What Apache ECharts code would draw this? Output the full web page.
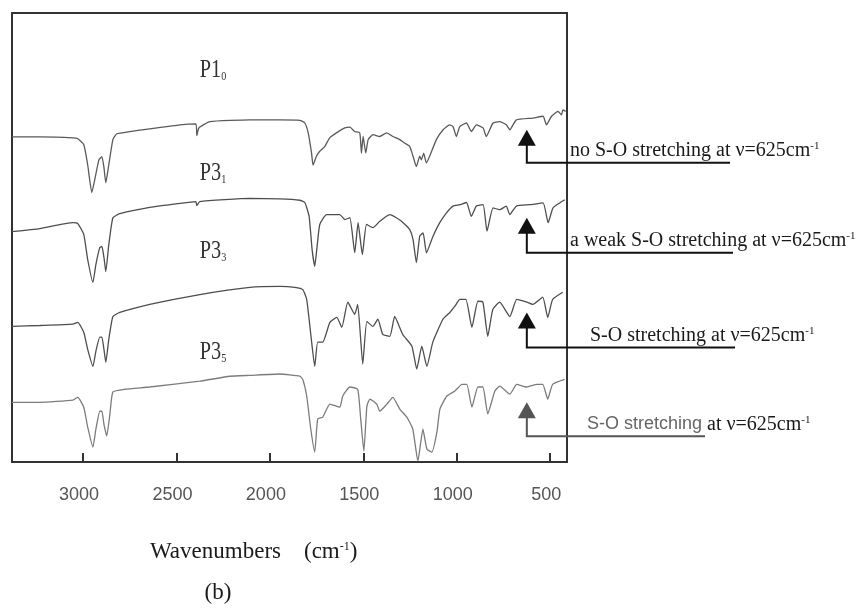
<!DOCTYPE html>
<html><head><meta charset="utf-8">
<script src="https://cdn.jsdelivr.net/npm/echarts@6/dist/echarts.min.js"></script>
<style>html,body{margin:0;padding:0;background:#fff}#c{width:867px;height:610px}</style>
</head><body><div id="c"></div>
<script>
// x tick labels (wavenumbers, cm-1)
const wavenumberTicks = [3000, 2500, 2000, 1500, 1000, 500];
// curve names (main text + subscript)
const curveNames = [['P1', '0'], ['P3', '1'], ['P3', '3'], ['P3', '5']];
// label value (vertical position in transmittance units) for each curve name
const curveLabelY = [87.3, 64.4, 46.9, 24.4];
const curveLabelX = [2375, 2375, 2375, 2375];

// spectra: [wavenumber, offset transmittance]
const p1_0 = [[3381,72.4],[3231,72.4],[3054,72.2],[3028,72.0],[2996,70.7],[2975,66.2],[2953,60.0],[2937,62.9],[2915,67.3],[2899,68.0],[2888,65.6],[2878,62.2],[2862,66.2],[2840,71.8],[2819,73.1],[2749,73.6],[2643,74.2],[2482,75.1],[2396,75.3],[2391,72.7],[2380,74.4],[2321,75.8],[2107,76.2],[1947,76.2],[1840,76.1],[1813,75.5],[1795,73.3],[1777,68.8],[1769,66.1],[1751,68.1],[1733,69.2],[1706,70.3],[1680,72.2],[1644,73.3],[1599,74.4],[1572,74.6],[1546,73.6],[1519,73.3],[1510,68.8],[1501,72.5],[1487,68.8],[1474,71.8],[1448,72.9],[1412,72.5],[1376,73.3],[1341,72.5],[1305,71.8],[1278,71.0],[1252,70.3],[1234,68.1],[1216,65.8],[1198,68.1],[1189,67.3],[1177,68.8],[1163,66.6],[1145,68.1],[1109,71.8],[1073,74.0],[1038,75.1],[1020,74.7],[1002,72.5],[984,74.7],[948,75.5],[922,73.6],[895,75.1],[859,74.4],[842,72.5],[806,75.5],[770,75.8],[735,75.1],[716,74.0],[681,76.2],[592,76.6],[538,77.0],[520,75.1],[493,77.0],[458,78.1],[440,77.3],[432,78.4],[417,78.1]];
const p3_1 = [[3381,51.3],[3231,52.0],[3054,53.3],[3028,53.1],[2996,50.7],[2975,45.1],[2947,40.0],[2931,44.0],[2910,47.8],[2899,48.0],[2888,45.6],[2878,42.4],[2862,48.4],[2840,54.4],[2803,55.3],[2643,56.7],[2482,57.6],[2396,58.0],[2391,57.1],[2375,58.0],[2107,58.7],[1947,58.6],[1840,58.3],[1813,57.8],[1790,54.7],[1774,47.3],[1760,43.6],[1747,48.1],[1733,52.9],[1697,55.1],[1626,55.1],[1599,54.0],[1572,54.4],[1546,46.6],[1528,53.3],[1505,46.2],[1483,52.9],[1448,52.2],[1412,53.6],[1359,55.1],[1323,54.4],[1287,53.3],[1252,51.8],[1234,49.6],[1216,44.4],[1198,50.3],[1180,51.0],[1162,46.6],[1127,50.3],[1091,53.3],[1055,55.5],[1020,57.0],[984,57.3],[948,57.8],[922,54.7],[895,57.0],[859,57.3],[838,51.4],[806,56.6],[770,56.2],[735,57.0],[716,55.1],[681,57.0],[609,57.3],[538,57.7],[511,53.3],[485,56.6],[449,57.7],[422,58.4]];
const p3_3 = [[3381,30.2],[3231,30.4],[3054,30.7],[3028,31.1],[2996,28.9],[2975,25.1],[2947,21.3],[2931,24.7],[2910,27.8],[2899,27.8],[2888,25.1],[2878,22.2],[2862,27.3],[2840,32.4],[2803,33.3],[2643,35.1],[2375,37.3],[2107,38.9],[1947,39.1],[1867,38.9],[1824,38.4],[1803,36.2],[1781,28.4],[1760,21.3],[1744,26.7],[1717,26.7],[1679,31.1],[1642,32.2],[1615,30.0],[1583,35.6],[1546,32.9],[1530,35.1],[1503,21.8],[1481,31.3],[1449,30.2],[1422,31.8],[1396,28.4],[1358,28.0],[1332,32.4],[1289,28.4],[1240,25.8],[1214,20.7],[1187,25.8],[1160,21.3],[1128,26.7],[1074,31.8],[1037,33.3],[1010,34.7],[983,36.2],[951,36.2],[919,30.0],[887,35.8],[860,35.6],[834,28.0],[807,34.0],[770,35.6],[716,32.4],[679,36.2],[625,35.6],[593,35.1],[540,36.7],[513,32.2],[487,36.2],[433,37.8]];
const p3_5 = [[3381,13.3],[3231,13.3],[3054,13.8],[3028,14.4],[2996,12.2],[2975,7.8],[2947,3.3],[2931,7.3],[2910,11.3],[2899,11.3],[2888,8.4],[2873,5.8],[2856,10.7],[2840,15.6],[2776,16.2],[2643,16.7],[2375,18.0],[2214,19.1],[2107,19.3],[1947,19.6],[1840,19.1],[1824,18.4],[1803,14.7],[1781,7.3],[1760,2.2],[1744,9.6],[1717,10.0],[1679,12.9],[1626,12.2],[1610,14.7],[1572,16.7],[1530,16.2],[1514,9.6],[1497,2.4],[1481,12.4],[1465,14.0],[1428,12.9],[1412,11.3],[1374,12.9],[1342,14.4],[1305,11.8],[1267,10.0],[1235,7.3],[1208,0.2],[1181,7.3],[1160,2.9],[1133,2.2],[1106,6.7],[1090,11.8],[1053,14.7],[1010,15.8],[972,17.3],[946,17.3],[919,12.2],[887,16.7],[860,16.7],[834,10.7],[796,15.8],[770,16.9],[716,15.1],[679,17.3],[625,16.7],[572,17.3],[540,17.3],[513,14.0],[487,17.3],[422,18.4]];

// annotations: arrow at 625 cm-1, tip value per curve
const annoWavenumber = 625;
const annoTipY = [74.0, 54.4, 33.3, 13.3];
const annoTexts = [
  '{b|no S-O stretching at ν=625cm}{s|-1}',
  '{b|a weak S-O stretching at ν=625cm}{s|-1}',
  '{b|S-O stretching at ν=625cm}{s|-1}',
  '{g|S-O stretching}{b| at ν=625cm}{s|-1}'
];

const chart = echarts.init(document.getElementById('c'), null, {renderer: 'canvas'});
const spectra = [p1_0, p3_1, p3_3, p3_5];
const colors = ['#5a5a5a', '#4e4e4e', '#4e4e4e', '#7c7c7c'];

chart.setOption({
  animation: false,
  backgroundColor: '#fff',
  grid: {left: 12, top: 13, right: 300, bottom: 148, show: true, borderColor: '#333', borderWidth: 2, backgroundColor: 'transparent'},
  xAxis: {
    type: 'value', min: 410, max: 3380, inverse: true,
    axisLine: {show: false},
    splitLine: {show: false},
    axisTick: {show: true, inside: true, length: 9, customValues: wavenumberTicks, lineStyle: {color: '#333', width: 2}},
    axisLabel: {customValues: wavenumberTicks, formatter: v => String(v), color: '#555', fontSize: 18, fontFamily: 'Liberation Sans', margin: 24, padding: [0, 8, 0, 0]}
  },
  yAxis: {type: 'value', min: 0, max: 100, show: false},
  series: spectra.map((d, i) => ({
    type: 'line', name: curveNames[i].join(''), data: d, showSymbol: false, smooth: 0.15,
    lineStyle: {color: colors[i], width: 1.3}, silent: true
  }))
});

function build() {
  const g = [];
  const serif = 'Liberation Serif';
  annoTipY.forEach((v, i) => {
    const p = chart.convertToPixel({gridIndex: 0}, [annoWavenumber, v]);
    const x = p[0], y = p[1];
    const col = i === 3 ? '#555' : '#111';
    const ends = [730, 733, 735, 705];
    const textX = [570, 570, 590, 587];
    const stemLen = [33, 35, 35, 34];
    g.push({type: 'polygon', shape: {points: [[x, y], [x - 9, y + 16], [x + 9, y + 16]]}, style: {fill: col}, z: 10});
    g.push({type: 'polyline', shape: {points: [[x, y + 14], [x, y + stemLen[i]], [ends[i], y + stemLen[i]]]}, style: {stroke: col, lineWidth: 2, fill: null}, z: 10});
    g.push({type: 'text', x: textX[i], y: y + stemLen[i] - 12, z: 10, style: {
      text: annoTexts[i], verticalAlign: 'middle', align: 'left',
      rich: {
        b: {fontSize: 20, fontFamily: serif, fill: '#1a1a1a'},
        g: {fontSize: 18, fontFamily: 'Liberation Sans', fill: '#666'},
        s: {fontSize: 11, fontFamily: serif, fill: '#1a1a1a', verticalAlign: 'top', lineHeight: 20}
      }
    }});
  });
  curveNames.forEach((n, i) => {
    const p = chart.convertToPixel({gridIndex: 0}, [curveLabelX[i], curveLabelY[i]]);
    g.push({type: 'text', x: p[0], y: p[1], scaleX: 0.78, z: 10, style: {
      text: '{m|' + n[0] + '}{s|' + n[1] + '}', verticalAlign: 'middle', align: 'left',
      rich: {
        m: {fontSize: 26, fontFamily: serif, fill: '#333'},
        s: {fontSize: 13, fontFamily: serif, fill: '#333', verticalAlign: 'bottom', lineHeight: 26}
      }
    }});
  });
  g.push({type: 'text', x: 150, y: 552, style: {
    text: '{b|Wavenumbers    (cm}{s|-1}{b|)}', verticalAlign: 'middle', align: 'left',
    rich: {
      b: {fontSize: 23, fontFamily: serif, fill: '#1a1a1a'},
      s: {fontSize: 12, fontFamily: serif, fill: '#1a1a1a', verticalAlign: 'top', lineHeight: 23}
    }
  }});
  g.push({type: 'text', x: 218, y: 593, style: {text: '(b)', fontSize: 23, fontFamily: serif, fill: '#1a1a1a', align: 'center', verticalAlign: 'middle'}});
  chart.setOption({graphic: g});
}
build();
</script>
</body></html>
